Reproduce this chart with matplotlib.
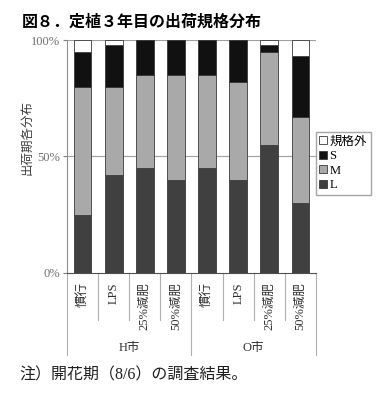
import matplotlib
matplotlib.use("Agg")
import matplotlib.pyplot as plt
import matplotlib.transforms as mtransforms
import numpy as np

plt.rcParams['font.family'] = ['Liberation Serif', 'Noto Sans CJK JP', 'DejaVu Sans']

# Data (percent of shipments by size grade)
categories = ["慣行", "LPS", "25%減肥", "50%減肥", "慣行", "LPS", "25%減肥", "50%減肥"]
groups = ["H市", "O市"]
L_vals = [25, 42, 45, 40, 45, 40, 55, 30]
M_vals = [55, 38, 40, 45, 40, 42, 40, 37]
S_vals = [15, 18, 15, 15, 15, 18, 3, 26]
out_vals = [5, 2, 0, 0, 0, 0, 2, 7]
y_ticks = [0, 50, 100]
y_ticklabels = ["0%", "50%", "100%"]

fig = plt.figure(figsize=(3.82, 3.97), dpi=100)
ax = fig.add_axes([0.1754, 0.3131, 0.6518, 0.5861])

x = np.arange(len(categories))
w = 0.57
edge = dict(edgecolor="#3a3a3a", linewidth=0.6)
L = np.array(L_vals)
M = np.array(M_vals)
S = np.array(S_vals)
O = np.array(out_vals)
bL = ax.bar(x, L, w, color="#404040", label="L", zorder=3, **edge)
bM = ax.bar(x, M, w, bottom=L, color="#a9a9a9", label="M", zorder=3, **edge)
bS = ax.bar(x, S, w, bottom=L + M, color="#111111", label="S", zorder=3, **edge)
bO = ax.bar(x, O, w, bottom=L + M + S, color="white", label="規格外", zorder=3, **edge)

ax.set_xlim(-0.5, len(categories) - 0.5)
ax.set_ylim(0, 100)
ax.set_yticks(y_ticks)
ax.set_yticklabels(y_ticklabels, color="#707070", fontsize=9)
ax.tick_params(axis="y", length=3, color="#808080", pad=2)
ax.set_xticks([])
for v in [50, 100]:
    ax.axhline(v, color="#a0a0a0", linewidth=0.8, zorder=1)
for s in ["top", "right"]:
    ax.spines[s].set_visible(False)
ax.spines["left"].set_color("#909090")
ax.spines["bottom"].set_color("#505050")

ax.set_ylabel("出荷期各分布", fontsize=9, color="#404040",
              family=['Noto Sans CJK JP', 'DejaVu Sans'])
ax.yaxis.set_label_coords(-0.135, 0.58)

# category labels and separators below the axis
trans = mtransforms.blended_transform_factory(ax.transData, ax.transAxes)
for i, c in enumerate(categories):
    ax.text(i, -0.04, c, rotation=90, ha="center", va="top", fontsize=9,
            color="#303030", transform=trans)
for xs in [-0.5, 3.5, 7.5]:
    ax.plot([xs, xs], [0, -0.354], transform=trans, color="#b0b0b0",
            linewidth=0.8, clip_on=False)
for xs in [0.5, 1.5, 2.5, 4.5, 5.5, 6.5]:
    ax.plot([xs, xs], [0, -0.203], transform=trans, color="#b0b0b0",
            linewidth=0.8, clip_on=False)
for g, gx in zip(groups, [1.5, 5.5]):
    ax.text(gx, -0.325, g, ha="center", va="center", fontsize=9,
            color="#303030", transform=trans)

fig.legend(handles=[bO, bS, bM, bL], labels=["規格外", "S", "M", "L"],
           loc="upper left", bbox_to_anchor=(0.826, 0.668), fontsize=9,
           frameon=True, fancybox=False, edgecolor="#909090",
           handlelength=0.6, handleheight=0.6, handletextpad=0.2,
           labelspacing=0.2, borderpad=0.3, borderaxespad=0)

fig.text(0.058, 0.945, "図８．定植３年目の出荷規格分布", fontsize=11.5,
         fontweight="bold", family=['Noto Sans CJK JP', 'DejaVu Sans'],
         ha="left", va="center")
fig.text(0.05, 0.053, "注）開花期（8/6）の調査結果。", fontsize=11.5,
         ha="left", va="center", color="#202020")

fig.savefig("out.png", dpi=100)
